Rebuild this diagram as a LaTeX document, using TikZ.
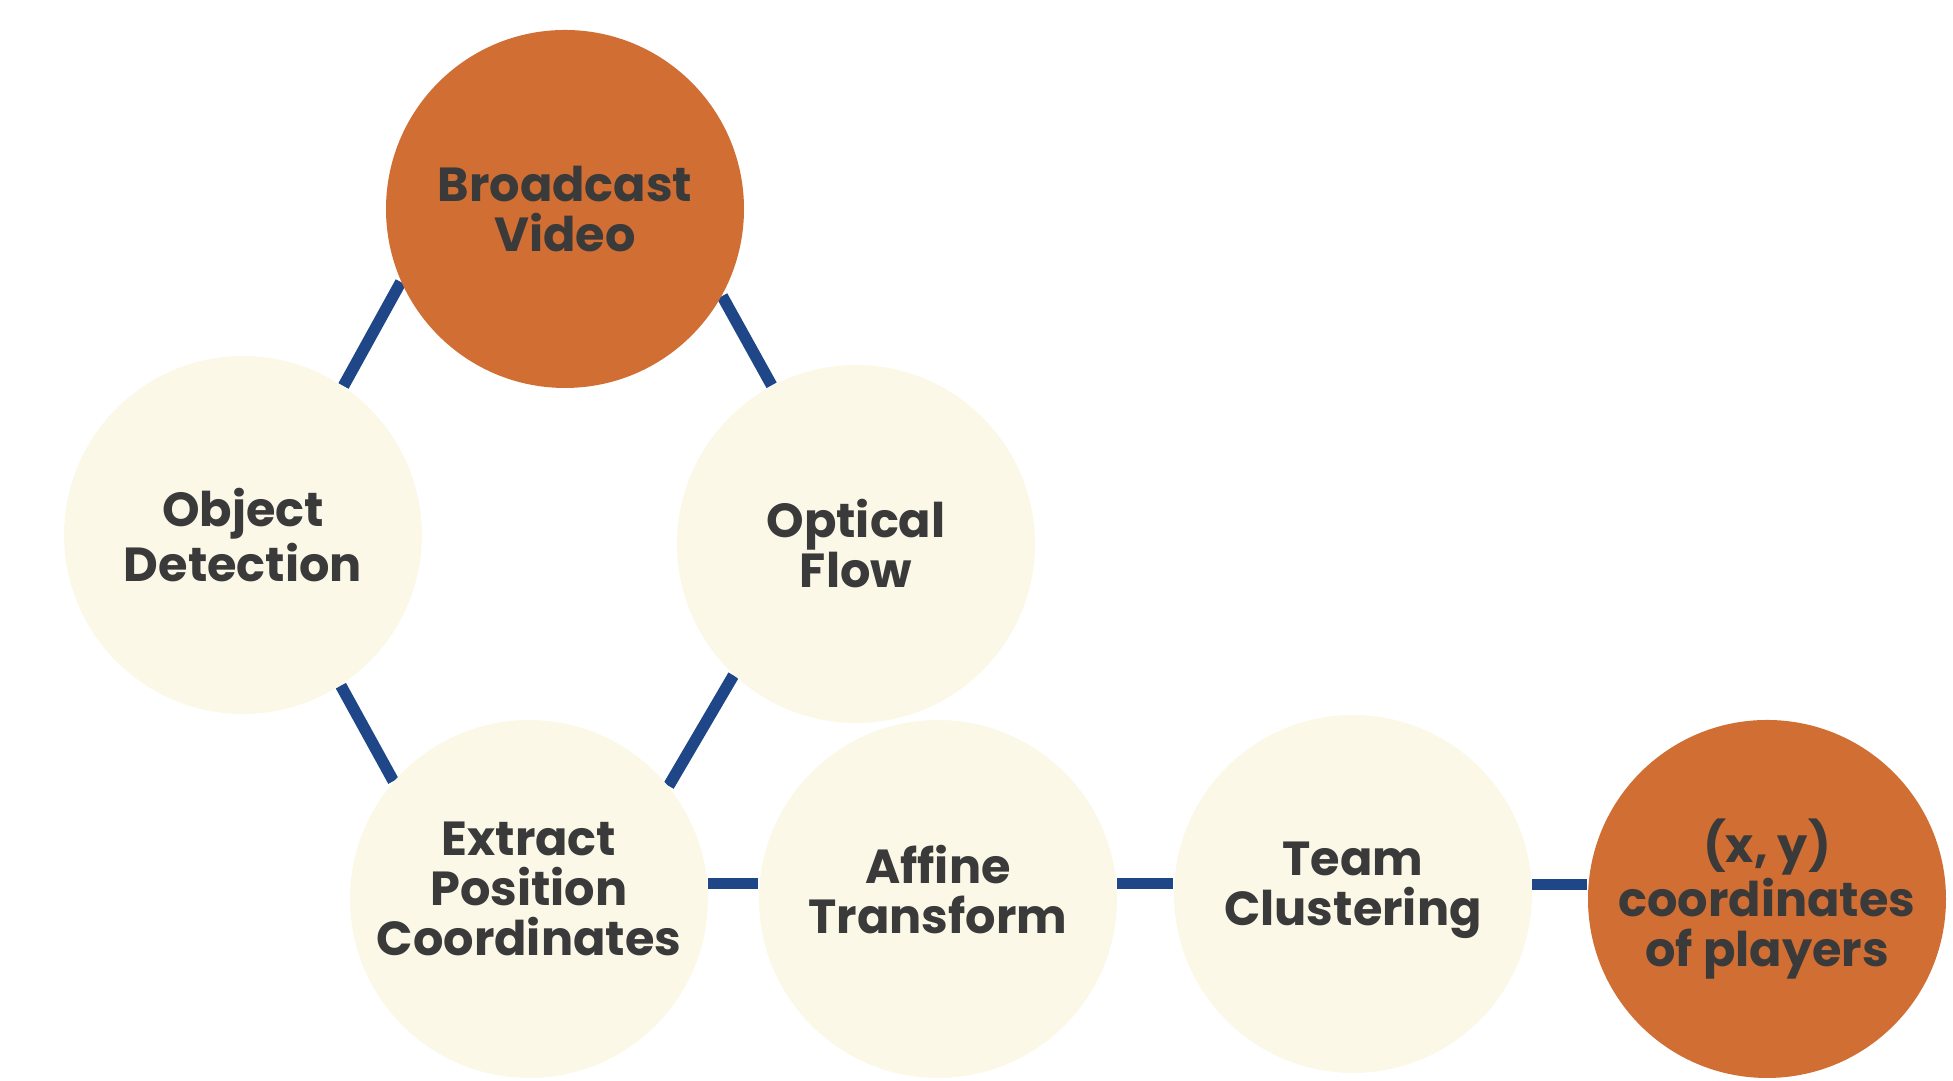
\documentclass[tikz,border=0pt]{standalone}
\usepackage{fontspec}
\setmainfont{Poppins}
\usetikzlibrary{backgrounds}
\definecolor{rust}{HTML}{D06E33}
\definecolor{cream}{HTML}{FCF8E8}
\definecolor{navy}{HTML}{1F4788}
\definecolor{ink}{HTML}{3A3A3A}
\tikzset{
  stage/.style={circle, fill=cream, minimum size=3.58cm, inner sep=0pt,
    align=center, text=ink, font=\fontsize{13.6}{14.2}\selectfont\bfseries},
  ends/.style={stage, fill=rust},
  lifted/.style={text depth=0.2cm},
  link/.style={navy, line width=3.3pt}
}
\begin{document}
\begin{tikzpicture}
\useasboundingbox (0,0) rectangle (19.53,10.81);
\node [ends] (bv) at (5.65,8.72) {Broadcast\\Video};
\node [stage] (od) at (2.43,5.46) {Object\\Detection};
\node [stage] (of) at (8.56,5.37) {Optical\\Flow};
\node [stage, lifted] (ex) at (5.29,1.82) {Extract\\Position\\Coordinates};
\node [stage, lifted] (af) at (9.38,1.82) {Affine\\Transform};
\node [stage, lifted] (tc) at (13.53,1.87) {Team\\Clustering};
\node [ends] (xy) at (17.67,1.82) {(x, y)\\coordinates\\of players};
% links go under the circles
\begin{scope}[on background layer]
\draw [link] (bv.204) -- (od.56);
\draw [link] (bv.331) -- (of.118);
\draw [link] (od.303) -- (ex.139);
\draw [link] (of.227) -- (ex.39);
\draw [link] (ex.5) -- (ex.5 -| af.west);
\draw [link] (af.5) -- (af.5 -| tc.west);
\draw [link] (tc.3) -- (tc.3 -| xy.west);
\end{scope}
\end{tikzpicture}
\end{document}
